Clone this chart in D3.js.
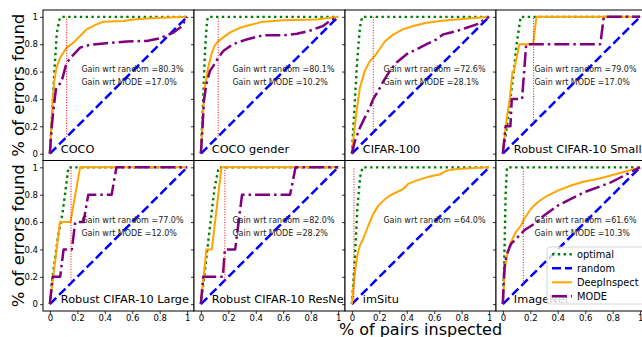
<!DOCTYPE html>
<html>
<head>
<meta charset="utf-8">
<script src="https://cdn.jsdelivr.net/npm/d3@7"></script>
<style>
  body { margin: 0; background: #fff; }
  text { font-family: "DejaVu Sans", sans-serif; }
</style>
</head>
<body>
<div id="chart"></div>
<script>
const panelNames = ["COCO", "COCO gender", "CIFAR-100", "Robust CIFAR-10 Small",
  "Robust CIFAR-10 Large", "Robust CIFAR-10 ResNet", "imSitu", "ImageNet"];
const gainRandom = [80.3, 80.1, 72.6, 79.0, 77.0, 82.0, 64.0, 61.6];
const gainMode = [17.0, 10.2, 28.1, 17.0, 12.0, 28.2, null, 10.3];
// x position of the red cut-off line in each panel
const cutoffX = [0.122, 0.126, 0.156, 0.224, 0.154, 0.175, 0.015, 0.149];
const tickValues = [0, 0.2, 0.4, 0.6, 0.8, 1];
const tickLabels = ["0", "0.2", "0.4", "0.6", "0.8", "1"];
const seriesNames = ["optimal", "random", "DeepInspect", "MODE"];

const randomLine = [[0, 0], [1, 1]];

const optimalCurves = [
  [[0, 0], [0.02, 0.35], [0.03, 0.55], [0.05, 0.88], [0.07, 0.98], [0.08, 1], [1, 1]],
  [[0, 0], [0.015, 0.35], [0.03, 0.75], [0.045, 0.97], [0.053, 1], [1, 1]],
  [[0, 0], [0.02, 0.35], [0.035, 0.62], [0.05, 0.82], [0.06, 0.93], [0.075, 1], [1, 1]],
  [[0, 0], [0.03, 0.2], [0.08, 0.6], [0.1, 0.8], [0.13, 1], [1, 1]],
  [[0, 0], [0.02, 0.2], [0.06, 0.5], [0.09, 0.65], [0.11, 0.8], [0.135, 1], [1, 1]],
  [[0, 0], [0.03, 0.25], [0.07, 0.6], [0.1, 0.85], [0.13, 1], [1, 1]],
  [[0, 0], [0.02, 0.3], [0.04, 0.7], [0.06, 0.93], [0.078, 1], [1, 1]],
  [[0, 0], [0.01, 0.3], [0.02, 0.8], [0.03, 1], [1, 1]]
];

const deepInspectCurves = [
  [[0, 0], [0.013, 0.24], [0.02, 0.385], [0.032, 0.53], [0.049, 0.63], [0.074, 0.7], [0.122, 0.775],
   [0.17, 0.81], [0.22, 0.86], [0.27, 0.91], [0.34, 0.945], [0.39, 0.965], [0.535, 0.97],
   [0.61, 0.98], [0.73, 0.99], [1, 1]],
  [[0, 0], [0.017, 0.31], [0.029, 0.48], [0.053, 0.63], [0.078, 0.73], [0.1, 0.79], [0.126, 0.82],
   [0.163, 0.85], [0.21, 0.885], [0.284, 0.92], [0.357, 0.94], [0.454, 0.965], [0.6, 0.975],
   [0.84, 0.98], [1, 1]],
  [[0, 0], [0.015, 0.143], [0.035, 0.316], [0.059, 0.486], [0.095, 0.607], [0.132, 0.678],
   [0.156, 0.7], [0.193, 0.75], [0.24, 0.82], [0.3, 0.87], [0.375, 0.91], [0.447, 0.933],
   [0.545, 0.957], [0.64, 0.97], [0.76, 0.98], [1, 1]],
  [[0, 0], [0.02, 0.2], [0.05, 0.4], [0.07, 0.6], [0.08, 0.6], [0.12, 0.8], [0.22, 0.8],
   [0.245, 1], [1, 1]],
  [[0, 0], [0.025, 0.2], [0.073, 0.6], [0.15, 0.6], [0.22, 1], [1, 1]],
  [[0, 0], [0.03, 0.3], [0.04, 0.4], [0.08, 0.4], [0.15, 1], [1, 1]],
  [[0, 0], [0.01, 0.114], [0.023, 0.235], [0.04, 0.357], [0.059, 0.43], [0.083, 0.478],
   [0.12, 0.575], [0.156, 0.66], [0.193, 0.72], [0.23, 0.757], [0.277, 0.794], [0.326, 0.818],
   [0.375, 0.842], [0.41, 0.879], [0.47, 0.903], [0.545, 0.927], [0.617, 0.944], [0.64, 0.947],
   [0.69, 0.976], [0.763, 0.988], [1, 1]],
  [[0, 0], [0.006, 0.114], [0.015, 0.26], [0.035, 0.38], [0.059, 0.454], [0.095, 0.527],
   [0.132, 0.575], [0.156, 0.624], [0.205, 0.697], [0.253, 0.745], [0.326, 0.794], [0.4, 0.83],
   [0.496, 0.867], [0.593, 0.896], [0.69, 0.915], [0.787, 0.94], [0.884, 0.968], [1, 1]]
];

const modeCurves = [
  [[0, 0], [0.013, 0.19], [0.025, 0.31], [0.044, 0.47], [0.086, 0.53], [0.122, 0.665], [0.16, 0.71],
   [0.22, 0.775], [0.29, 0.795], [0.41, 0.807], [0.56, 0.82], [0.705, 0.824], [0.8, 0.843],
   [0.9, 0.885], [0.96, 0.93], [1, 1]],
  [[0, 0], [0.012, 0.19], [0.022, 0.385], [0.041, 0.51], [0.066, 0.605], [0.09, 0.64], [0.126, 0.7],
   [0.163, 0.75], [0.235, 0.8], [0.333, 0.835], [0.454, 0.865], [0.6, 0.865], [0.7, 0.877],
   [0.79, 0.897], [0.89, 0.933], [0.94, 0.97], [1, 1]],
  [[0, 0], [0.023, 0.095], [0.059, 0.19], [0.095, 0.265], [0.132, 0.34], [0.156, 0.4], [0.193, 0.46],
   [0.23, 0.53], [0.277, 0.605], [0.326, 0.666], [0.399, 0.727], [0.472, 0.763], [0.545, 0.8],
   [0.617, 0.836], [0.666, 0.872], [0.714, 0.884], [0.763, 0.896], [0.836, 0.92], [0.909, 0.945],
   [1, 1]],
  [[0, 0], [0.02, 0.2], [0.055, 0.2], [0.065, 0.4], [0.14, 0.4], [0.17, 0.8], [0.71, 0.8],
   [0.735, 1], [1, 1]],
  [[0, 0], [0.02, 0.2], [0.075, 0.2], [0.1, 0.4], [0.16, 0.4], [0.185, 0.6], [0.245, 0.6],
   [0.28, 0.8], [0.45, 0.8], [0.485, 1], [1, 1]],
  [[0, 0], [0.017, 0.2], [0.16, 0.2], [0.175, 0.4], [0.25, 0.4], [0.3, 0.8], [0.65, 0.8],
   [0.69, 1], [1, 1]],
  null,
  [[0, 0], [0.006, 0.163], [0.015, 0.308], [0.035, 0.38], [0.059, 0.44], [0.108, 0.49],
   [0.156, 0.54], [0.229, 0.587], [0.3, 0.648], [0.4, 0.72], [0.496, 0.77], [0.593, 0.818],
   [0.69, 0.854], [0.787, 0.89], [0.884, 0.94], [1, 1]]
];

const width = 642;
const height = 337;
const panelW = 151;
const panelH = 150.5;
const left0 = 43;
const top0 = 10;

const styles = {
  optimal: { color: "#008000", w: 2.4, dash: "2.4,3.4" },
  random: { color: "#0000ff", w: 2.5, dash: "9,4" },
  deep: { color: "#ffa500", w: 2, dash: null },
  mode: { color: "#800080", w: 2.5, dash: "15,4,2.5,4" }
};

const svg = d3.select("#chart").append("svg")
  .attr("width", width)
  .attr("height", height);

function drawLine(g, line, pts, st) {
  const p = g.append("path")
    .datum(pts)
    .attr("d", line)
    .attr("fill", "none")
    .attr("stroke", st.color)
    .attr("stroke-width", st.w)
    .attr("stroke-linejoin", "round");
  if (st.dash) p.attr("stroke-dasharray", st.dash);
}

panelNames.forEach((name, i) => {
  const col = i % 4;
  const row = Math.floor(i / 4);
  const x0 = left0 + col * panelW;
  const y0 = top0 + row * panelH;

  const x = d3.scaleLinear().domain([-0.05, 1.05]).range([x0, x0 + panelW]);
  const y = d3.scaleLinear().domain([-0.05, 1.05]).range([y0 + panelH, y0]);
  const line = d3.line().x(d => x(d[0])).y(d => y(d[1]));

  const g = svg.append("g");
  g.append("rect")
    .attr("x", x0).attr("y", y0)
    .attr("width", panelW).attr("height", panelH)
    .attr("fill", "#fff");

  drawLine(g, line, optimalCurves[i], styles.optimal);
  drawLine(g, line, randomLine, styles.random);
  drawLine(g, line, deepInspectCurves[i], styles.deep);
  if (modeCurves[i]) drawLine(g, line, modeCurves[i], styles.mode);

  // red cut-off line, from the random diagonal up to 1
  g.append("line")
    .attr("x1", x(cutoffX[i])).attr("x2", x(cutoffX[i]))
    .attr("y1", y(cutoffX[i])).attr("y2", y(1))
    .attr("stroke", "red")
    .attr("stroke-width", 1)
    .attr("stroke-dasharray", "1,1.6");

  g.append("text")
    .attr("x", x(0.23)).attr("y", y(0.615))
    .attr("dy", "0.35em")
    .style("font-size", "8px")
    .attr("fill", "#222")
    .text("Gain wrt random =" + gainRandom[i].toFixed(1) + "%");
  if (gainMode[i] !== null) {
    g.append("text")
      .attr("x", x(0.23)).attr("y", y(0.52))
      .attr("dy", "0.35em")
      .style("font-size", "8px")
      .attr("fill", "#222")
      .text("Gain wrt MODE =" + gainMode[i].toFixed(1) + "%");
  }

  g.append("text")
    .attr("x", x(0.08)).attr("y", y(0.005))
    .style("font-size", "11.3px")
    .attr("fill", "#000")
    .text(name);

  g.append("rect")
    .attr("x", x0).attr("y", y0)
    .attr("width", panelW).attr("height", panelH)
    .attr("fill", "none")
    .attr("stroke", "#000")
    .attr("stroke-width", 1);

  const yAxis = d3.axisLeft(y).tickValues(tickValues).tickSize(3).tickPadding(2)
    .tickFormat((d, k) => col === 0 ? tickLabels[k] : "");
  const xAxis = d3.axisBottom(x).tickValues(tickValues).tickSize(3).tickPadding(1)
    .tickFormat((d, k) => row === 1 ? tickLabels[k] : "");

  const ya = g.append("g").attr("transform", `translate(${x0},0)`).call(yAxis);
  const xa = g.append("g").attr("transform", `translate(0,${y0 + panelH})`).call(xAxis);
  [ya, xa].forEach(a => {
    a.select(".domain").remove();
    a.selectAll("text").style("font-size", "8.5px")
      .style("font-family", "'DejaVu Sans', sans-serif").attr("fill", "#000");
    a.selectAll("line").attr("stroke", "#000").attr("stroke-width", 0.8);
  });
});

// y labels, one per row
[0, 1].forEach(row => {
  svg.append("text")
    .attr("transform", `translate(18,${top0 + row * panelH + panelH / 2}) rotate(-90)`)
    .attr("text-anchor", "middle")
    .attr("dy", "0.35em")
    .style("font-size", "16.5px")
    .text("% of errors found");
});

// x label under the third column
svg.append("text")
  .attr("x", left0 + 2.5 * panelW)
  .attr("y", 334.5)
  .attr("text-anchor", "middle")
  .style("font-size", "16px")
  .text("% of pairs inspected");

// legend in the last panel
const legend = svg.append("g");
legend.append("rect")
  .attr("x", 547).attr("y", 247)
  .attr("width", 110).attr("height", 57)
  .attr("rx", 3)
  .attr("fill", "rgba(255,255,255,0.8)")
  .attr("stroke", "#ccc")
  .attr("stroke-width", 0.8);

const legendStyles = [styles.optimal, styles.random, styles.deep, styles.mode];
seriesNames.forEach((s, k) => {
  const ly = 254.3 + k * 14;
  const st = legendStyles[k];
  const l = legend.append("line")
    .attr("x1", 552).attr("x2", 572)
    .attr("y1", ly).attr("y2", ly)
    .attr("stroke", st.color)
    .attr("stroke-width", st.w);
  if (st.dash) l.attr("stroke-dasharray", st.dash);
  legend.append("text")
    .attr("x", 577).attr("y", ly)
    .attr("dy", "0.35em")
    .style("font-size", "9.8px")
    .text(s);
});
</script>
</body>
</html>
